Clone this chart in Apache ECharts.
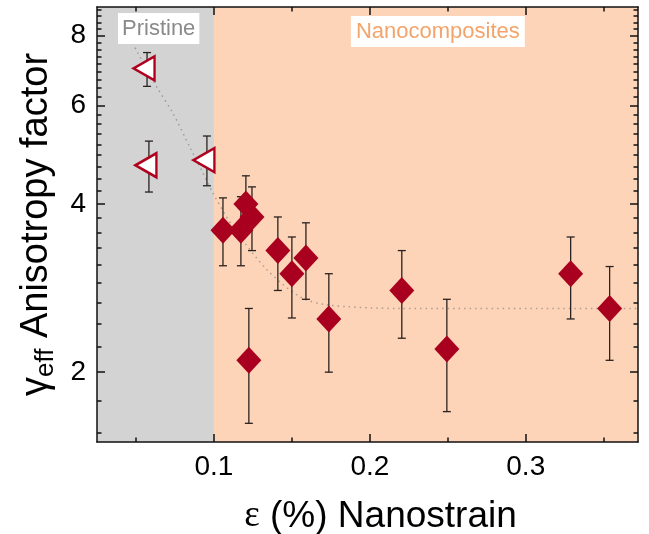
<!DOCTYPE html>
<html><head><meta charset="utf-8">
<script src="https://cdn.jsdelivr.net/npm/echarts@6/dist/echarts.min.js"></script>
<style>html,body{margin:0;padding:0;background:#fff}#c{width:649px;height:534px}</style>
</head><body><div id="c"></div>
<script>
// Pristine samples (open left triangles)
const pristineX  = [0.0571, 0.0583, 0.0955];
const pristineY  = [6.99, 4.69, 4.79];
const pristineLo = [6.49, 4.20, 4.31];
const pristineHi = [7.46, 5.18, 5.29];

// Nanocomposites (filled diamonds)
const nanoX  = [0.1058, 0.1173, 0.1205, 0.1244, 0.141, 0.150, 0.159, 0.1737, 0.1224, 0.2205, 0.2494, 0.3288, 0.3538];
const nanoY  = [3.59, 3.59, 4.00, 3.79, 3.30, 3.00, 3.20, 2.49, 2.10, 2.80, 2.20, 3.00, 2.60];
const nanoLo = [3.10, 3.10, 3.55, 3.30, 2.80, 2.50, 2.70, 2.00, 1.62, 2.30, 1.70, 2.49, 2.10];
const nanoHi = [4.10, 4.12, 4.49, 4.29, 3.79, 3.49, 3.70, 3.00, 2.60, 3.30, 2.70, 3.49, 3.09];

// dotted guide curve
const fitX = [0.0494, 0.0635, 0.0737, 0.0846, 0.093, 0.0994, 0.1122, 0.134, 0.155, 0.172, 0.219, 0.372];
const fitY = [7.61, 6.46, 5.81, 5.05, 4.54, 4.18, 3.64, 3.05, 2.73, 2.64, 2.60, 2.60];

// axis ticks
const xMajor = [0.1, 0.2, 0.3];
const xMinor = [0.05, 0.15, 0.25, 0.35];
const yMajor = [2, 4, 6, 8];
const xRange = [0.025, 0.372];
const yRange = [1.5, 9];
const regionSplit = 0.1;

const yMinor = [];
for (let a = 0; a <= 8; a += 2) for (let k = 1; k <= 8; k++) {
  const v = a + 2 * k / 9;
  if (v > yRange[0] && v < yRange[1]) yMinor.push(+v.toFixed(4));
}

const FONT = '"Liberation Sans", Arial, sans-serif';
const lineStyle = { color: '#111', width: 1.5 };

function xAx(pos, ticks, len, showLine, labels) {
  return {
    type: 'value', gridIndex: 0, position: pos, min: xRange[0], max: xRange[1], z: 3,
    axisLine: { show: showLine, onZero: false, lineStyle },
    axisTick: { show: true, inside: true, length: len, customValues: ticks, lineStyle: { color: '#111', width: 1.5 } },
    axisLabel: labels ? { show: true, customValues: labels, fontSize: 28, color: '#000', fontFamily: FONT, margin: 11,
      formatter: v => (+v).toFixed(1) } : { show: false },
    splitLine: { show: false }
  };
}
function yAx(pos, ticks, len, showLine, labels) {
  return {
    type: 'log', logBase: 10, gridIndex: 0, position: pos, min: yRange[0], max: yRange[1], z: 3,
    axisLine: { show: showLine, onZero: false, lineStyle },
    axisTick: { show: true, inside: true, length: len, customValues: ticks, lineStyle: { color: '#111', width: 1.5 } },
    axisLabel: labels ? { show: true, customValues: labels, fontSize: 28, color: '#000', fontFamily: FONT, margin: 11 } : { show: false },
    splitLine: { show: false }, minorTick: { show: false }, minorSplitLine: { show: false }
  };
}

const xAxes = [xAx('bottom', xMajor, 8, true, xMajor), xAx('bottom', xMinor, 4.5, false, null),
               xAx('top', xMajor, 8, true, null), xAx('top', xMinor, 4.5, false, null)];
xAxes[0].name = '{e|ε} (%) Nanostrain';
xAxes[0].nameLocation = 'middle';
xAxes[0].nameGap = 56;
xAxes[0].nameTextStyle = { fontSize: 37, color: '#000', fontFamily: FONT, padding: [0, 0, 0, 26],
  rich: { e: { fontSize: 37, fontFamily: '"Liberation Serif", "Times New Roman", serif', color: '#000' } } };

const yAxes = [yAx('left', yMajor, 8, true, yMajor), yAx('left', yMinor, 4.5, false, null),
               yAx('right', yMajor, 8, true, null), yAx('right', yMinor, 4.5, false, null)];
yAxes[0].name = '{g|γ}{s|eff} Anisotropy factor';
yAxes[0].nameLocation = 'middle';
yAxes[0].nameGap = 38;
yAxes[0].nameTextStyle = { fontSize: 38, color: '#000', fontFamily: FONT,
  rich: { g: { fontSize: 38, color: '#000', fontFamily: FONT },
          s: { fontSize: 26, color: '#000', fontFamily: FONT, verticalAlign: 'bottom', padding: [18, 0, 0, 0] } } };

function errRender(params, api) {
  const x = api.value(0), lo = api.value(1), hi = api.value(2);
  const p1 = api.coord([x, hi]), p2 = api.coord([x, lo]);
  const w = 4;
  const style = { stroke: '#2a2220', lineWidth: 1.3 };
  return { type: 'group', children: [
    { type: 'line', shape: { x1: p1[0], y1: p1[1], x2: p2[0], y2: p2[1] }, style },
    { type: 'line', shape: { x1: p1[0] - w, y1: p1[1], x2: p1[0] + w, y2: p1[1] }, style },
    { type: 'line', shape: { x1: p2[0] - w, y1: p2[1], x2: p2[0] + w, y2: p2[1] }, style }
  ] };
}

const errData = pristineX.map((x, i) => [x, pristineLo[i], pristineHi[i]])
  .concat(nanoX.map((x, i) => [x, nanoLo[i], nanoHi[i]]));

const option = {
  animation: false,
  backgroundColor: '#fff',
  grid: { left: 97, right: 11, top: 7, bottom: 92, containLabel: false, outerBoundsMode: 'none' },
  xAxis: xAxes,
  yAxis: yAxes,
  series: [
    { type: 'line', data: [], z: 1, silent: true,
      markArea: { silent: true, data: [
        [{ xAxis: xRange[0], itemStyle: { color: '#d3d3d3' },
           label: { show: true, position: 'insideTopLeft', distance: 0, offset: [21, 6], formatter: 'Pristine',
             color: '#8a8a8a', fontSize: 22, fontFamily: FONT, backgroundColor: '#fff', padding: [5, 4, 4, 4] } },
         { xAxis: regionSplit }],
        [{ xAxis: regionSplit, itemStyle: { color: '#fed4b8' },
           label: { show: true, position: 'insideTopLeft', distance: 0, offset: [137, 9], formatter: 'Nanocomposites',
             color: '#f4a46a', fontSize: 22, fontFamily: FONT, backgroundColor: '#fff', padding: [5, 5, 4, 5] } },
         { xAxis: xRange[1] }]
      ] } },
    { type: 'line', z: 2, data: fitX.map((x, i) => [x, fitY[i]]), showSymbol: false, smooth: 0.3, silent: true,
      lineStyle: { color: 'rgba(120,120,120,0.6)', width: 1.5, type: [1.5, 4] } },
    { type: 'custom', z: 4, renderItem: errRender, data: errData, encode: { x: 0, y: [1, 2] }, silent: true },
    { type: 'scatter', z: 5, data: pristineX.map((x, i) => [x, pristineY[i]]),
      symbol: 'triangle', symbolRotate: 90, symbolSize: [24, 21], symbolOffset: [-3, 0],
      itemStyle: { color: '#fff', borderColor: '#b0001e', borderWidth: 2.5, opacity: 1 } },
    { type: 'scatter', z: 6, data: nanoX.map((x, i) => [x, nanoY[i]]),
      symbol: 'diamond', symbolSize: [25, 27],
      itemStyle: { color: '#a8001e', opacity: 1 } }
  ]
};
const chart = echarts.init(document.getElementById('c'), null, { renderer: 'canvas' });
chart.setOption(option);
</script>
</body></html>
